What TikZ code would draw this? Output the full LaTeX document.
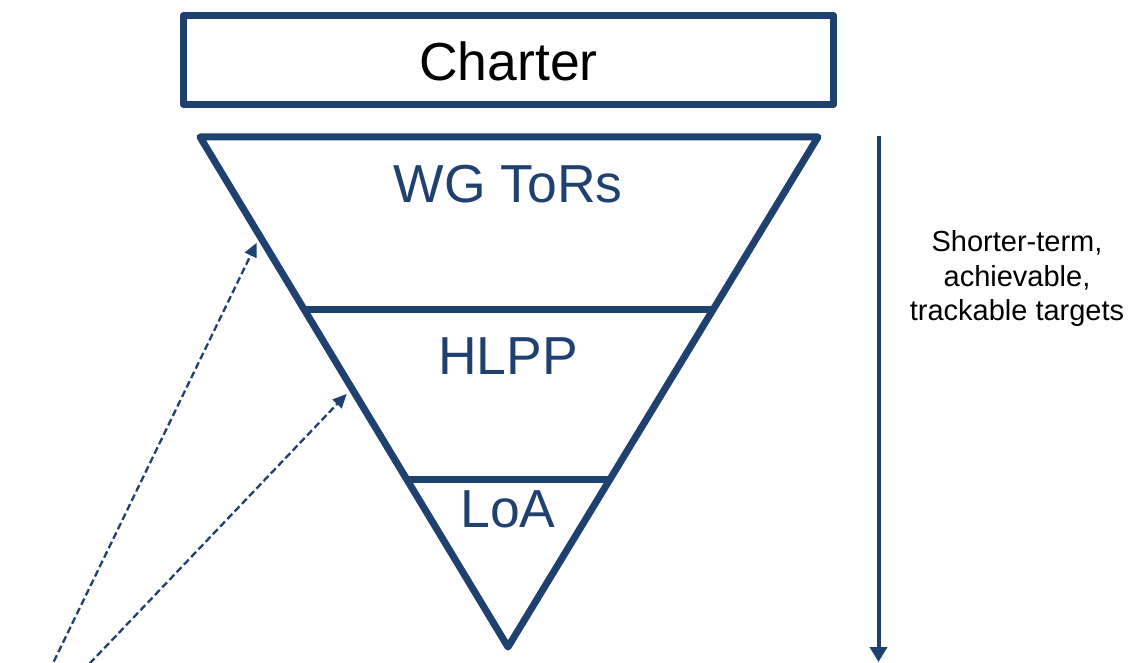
\documentclass[tikz,border=0pt]{standalone}
\usepackage{fontspec}
\setmainfont{Liberation Sans}
\usetikzlibrary{arrows.meta,calc}
\definecolor{navy}{RGB}{30,65,112}
\begin{document}
\begin{tikzpicture}[x=1pt,y=-1pt,
  frame/.style={draw=navy,line width=7pt,line join=round},
  big/.style={font=\fontsize{53.5}{60}\selectfont,anchor=base,inner sep=0pt},
  dasharrow/.style={draw=navy,line width=2.3pt,dash pattern=on 7pt off 3.5pt,
    -{Triangle[length=14pt,width=12.5pt]}},
  downarrow/.style={draw=navy,line width=4pt,-{Triangle[length=15pt,width=17pt]}}]
\useasboundingbox (0,0) rectangle (1129,663);
% Charter box
\node[frame,minimum width=650pt,minimum height=89pt,inner sep=0pt] (charter) at (508.5,60) {};
\node[big,text=black] (charterlbl) at (508.5,81) {Charter};
% triangle
\coordinate (tl) at (200,137);
\coordinate (tr) at (818,137);
\coordinate (apex) at (508,647);
\draw[frame] (tl) -- (tr) -- (apex) -- cycle;
\coordinate (hl) at ($(tl)!0.3392!(apex)$);
\coordinate (hr) at ($(tr)!0.3392!(apex)$);
\coordinate (ll) at ($(tl)!0.6725!(apex)$);
\coordinate (lr) at ($(tr)!0.6725!(apex)$);
\draw[frame] (hl) -- (hr);
\draw[frame] (ll) -- (lr);
\node[big,text=navy] (wg) at (508,202) {WG ToRs};
\node[big,text=navy] (hlpp) at (508,374) {HLPP};
\node[big,text=navy] (loa) at (508,527) {LoA};
% dashed arrows
\coordinate (e1) at ($(tl)!0.1945!(apex)$);
\coordinate (e2) at ($(tl)!0.4931!(apex)$);
\coordinate (s1) at (49.2,671);
\coordinate (s2) at (82.5,671);
\draw[dasharrow,shorten >=7.3pt] (s1) -- (e1);
\draw[dasharrow,shorten >=7.5pt] (s2) -- (e2);
% right arrow
\coordinate (rtop) at (878.5,136);
\coordinate (rbot) at (878.5,662);
\draw[downarrow] (rtop) -- (rbot);
\node[align=center,font=\fontsize{29}{34.5}\selectfont,inner sep=0pt] (note) at (1017,279) {Shorter-term,\\achievable,\\trackable targets};
\end{tikzpicture}
\end{document}
